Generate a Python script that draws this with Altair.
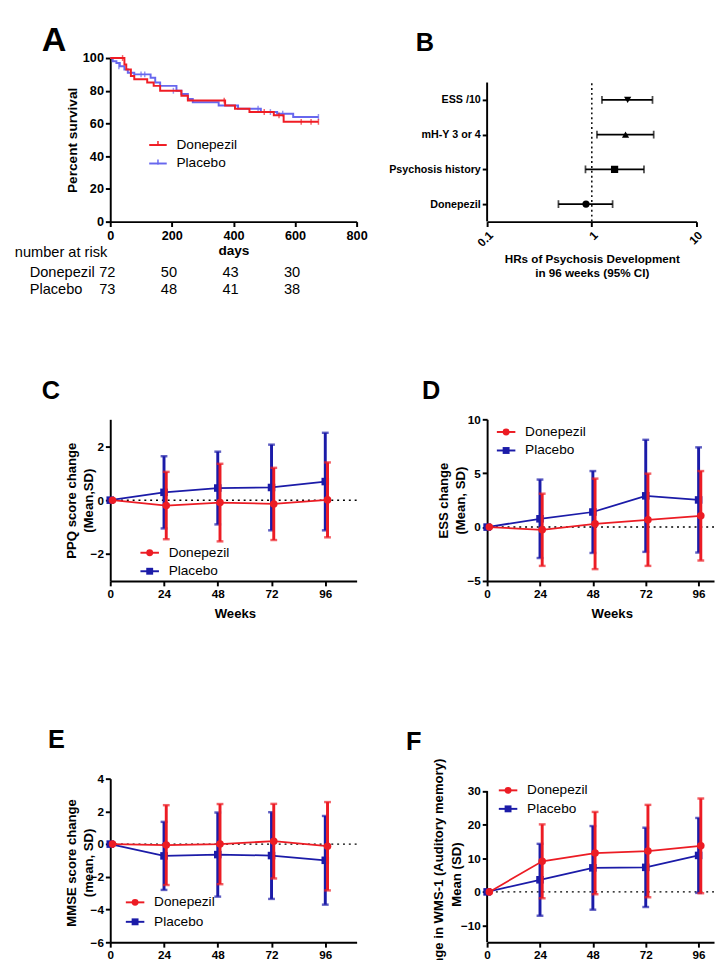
import altair as alt
import pandas as pd

FONT = "Liberation Sans"
RED = "#ec1c24"
NAVY = "#1b1ba8"
KM_RED = "#f01c24"
KM_BLUE = "#6767ee"

# ---------------- data ----------------
arms = ["Donepezil", "Placebo"]

# A: Kaplan-Meier (percent survival, step values from each day on)
don_km_day = [0, 46, 52, 67, 78, 120, 141, 162, 231, 252, 373, 405, 452, 531, 563, 676]
don_km_pct = [100, 96, 93, 89, 87, 85, 83, 80, 77, 74, 71, 69, 67, 65, 61, 61]
pla_km_day = [0, 8, 20, 31, 46, 57, 78, 131, 146, 162, 215, 231, 252, 268, 352, 415, 489, 542, 594, 676]
pla_km_pct = [100, 98, 97, 95, 93, 91, 90, 88, 85, 83, 80, 78, 75, 73, 71, 69, 67, 66, 64, 64]
don_cens_day = [40, 370, 500, 548, 620, 652, 676]
don_cens_pct = [100, 74, 67, 65, 61, 61, 61]
pla_cens_day = [28, 100, 112, 205, 480, 520, 560, 676]
pla_cens_pct = [95, 90, 90, 80, 69, 67, 66, 64]
risk_days = [0, 200, 400, 600]
risk_don = [72, 50, 43, 30]
risk_pla = [73, 48, 41, 38]

# B: hazard ratios
hr_labels = ["ESS /10", "mH-Y 3 or 4", "Psychosis history", "Donepezil"]
hr_est = [2.2, 2.1, 1.65, 0.88]
hr_lo = [1.25, 1.12, 0.87, 0.48]
hr_hi = [3.8, 3.9, 3.15, 1.58]
hr_shapes = ["triangle-down", "triangle-up", "square", "circle"]

# C-F: mean and SD by week
weeks = [0, 24, 48, 72, 96]
ppq_don_mean = [0, -0.20, -0.09, -0.14, 0.01]
ppq_don_sd = [0, 1.25, 1.44, 1.34, 1.39]
ppq_pla_mean = [0, 0.29, 0.45, 0.47, 0.69]
ppq_pla_sd = [0, 1.34, 1.35, 1.59, 1.81]
ess_don_mean = [0, -0.25, 0.30, 0.68, 1.05]
ess_don_sd = [0, 3.35, 4.20, 4.28, 4.15]
ess_pla_mean = [0, 0.77, 1.40, 2.90, 2.52]
ess_pla_sd = [0, 3.64, 3.80, 5.20, 4.88]
mmse_don_mean = [0, -0.06, 0.0, 0.18, -0.13]
mmse_don_sd = [0, 2.44, 2.45, 2.28, 2.70]
mmse_pla_mean = [0, -0.72, -0.64, -0.70, -0.99]
mmse_pla_sd = [0, 2.08, 2.57, 2.65, 2.71]
wms_don_mean = [0, 9.1, 11.55, 12.15, 13.7]
wms_don_sd = [0, 11.0, 12.25, 13.75, 14.1]
wms_pla_mean = [0, 3.6, 7.15, 7.3, 10.85]
wms_pla_sd = [0, 10.7, 12.45, 11.8, 11.15]


# ---------------- helpers ----------------
def text_layer(text, x, y, size=14, weight="normal", align="left"):
    return alt.Chart(pd.DataFrame({"t": [text]})).mark_text(
        align=align, baseline="alphabetic", font=FONT, fontSize=size,
        fontWeight=weight, color="black"
    ).encode(text="t:N", x=alt.value(x), y=alt.value(y))


def legend_layers(entries, x0, x1, tx, ys, km=False, size=14):
    out = []
    for (label, color, shape), y in zip(entries, ys):
        base = alt.Chart(pd.DataFrame({"t": [label]}))
        out.append(base.mark_rule(color=color, strokeWidth=2).encode(
            x=alt.value(x0), x2=alt.value(x1), y=alt.value(y)))
        if km:
            out.append(base.mark_rule(color=color, strokeWidth=1.5).encode(
                x=alt.value((x0 + x1) / 2), y=alt.value(y - 4), y2=alt.value(y + 1)))
        else:
            out.append(base.mark_point(shape=shape, filled=True, color=color,
                                       size=50, opacity=1).encode(
                x=alt.value((x0 + x1) / 2), y=alt.value(y)))
        out.append(base.mark_text(align="left", baseline="middle", font=FONT,
                                  fontSize=size, color="black").encode(
            x=alt.value(tx), y=alt.value(y), text="t:N"))
    return out


# ---------------- panel A ----------------
def panel_a():
    W, H = 253, 168
    sx = alt.Scale(domain=[0, 800], nice=False)
    sy = alt.Scale(domain=[0, 100], nice=False)
    xaxis = alt.Axis(values=[0, 200, 400, 600, 800], title="days", titleX=W / 2,
                     titleY=34, titleBaseline="alphabetic", titleAlign="center",
                     titleFontSize=14, labelFontSize=13)
    yaxis = alt.Axis(values=[0, 20, 40, 60, 80, 100], title="Percent survival",
                     titleX=-35, titleY=H / 2, titleAngle=270, titleAlign="center",
                     titleBaseline="alphabetic", titleFontSize=14, labelPadding=2,
                     labelFontSize=13)

    def X(f):
        return alt.X(f, type="quantitative", scale=sx, axis=xaxis)

    def Y(f):
        return alt.Y(f, type="quantitative", scale=sy, axis=yaxis)

    don = pd.DataFrame({"day": don_km_day, "pct": don_km_pct})
    pla = pd.DataFrame({"day": pla_km_day, "pct": pla_km_pct})
    donc = pd.DataFrame({"day": don_cens_day, "pct": don_cens_pct})
    plac = pd.DataFrame({"day": pla_cens_day, "pct": pla_cens_pct})
    layers = [
        alt.Chart(pla).mark_line(interpolate="step-after", color=KM_BLUE, strokeWidth=2)
        .encode(x=X("day"), y=Y("pct")),
        alt.Chart(plac).mark_tick(orient="vertical", color=KM_BLUE, size=6, thickness=1.5)
        .encode(x=X("day"), y=Y("pct")),
        alt.Chart(don).mark_line(interpolate="step-after", color=KM_RED, strokeWidth=2)
        .encode(x=X("day"), y=Y("pct")),
        alt.Chart(donc).mark_tick(orient="vertical", color=KM_RED, size=6, thickness=1.5)
        .encode(x=X("day"), y=Y("pct")),
    ]
    layers += legend_layers([(arms[0], KM_RED, None), (arms[1], KM_BLUE, None)],
                            40, 58, 68, [89.3, 108.3], km=True)
    risk = pd.DataFrame({"day": risk_days, "don": risk_don, "pla": risk_pla})
    for field, y in [("don", 225), ("pla", 242.5)]:
        layers.append(alt.Chart(risk).mark_text(font=FONT, fontSize=15, align="center",
                                                baseline="alphabetic", dx=-3, color="black")
                      .encode(x=X("day"), y=alt.value(y), text=f"{field}:Q"))
    layers.append(text_layer("number at risk", -98, 204.5, size=15))
    layers.append(text_layer(arms[0], -82.7, 225, size=15))
    layers.append(text_layer(arms[1], -82.7, 242.5, size=15))
    layers.append(text_layer("A", -70.3, -7.3, size=35, weight="bold"))
    return alt.layer(*layers).properties(width=W, height=H)


# ---------------- panel B ----------------
def panel_b():
    W, H = 215, 168
    n = len(hr_labels)
    pos = list(range(n, 0, -1))
    df = pd.DataFrame({"label": hr_labels, "hr": hr_est, "lo": hr_lo, "hi": hr_hi, "pos": pos})
    expr = " : ".join(f"datum.value == {int(p)} ? '{l}'" for p, l in zip(pos, hr_labels)) + " : ''"
    sx = alt.Scale(type="log", domain=[0.1, 10], nice=False)
    sy = alt.Scale(domain=[0.495, 5.205], nice=False, zero=False)
    xaxis = alt.Axis(values=[0.1, 1, 10], format="~g", labelAngle=315,
                     title=["HRs of Psychosis Development", "in 96 weeks (95% CI)"],
                     titleX=W / 2, titleY=42, titleBaseline="alphabetic", titleAlign="center",
                     titleFontSize=12, titleLineHeight=14)
    yaxis = alt.Axis(values=list(range(1, n + 1)), labelExpr=expr, title=None,
                     domain=False, labelFontSize=11, labelPadding=2)

    def X(f):
        return alt.X(f, type="quantitative", scale=sx, axis=xaxis)

    def Y(f):
        return alt.Y(f, type="quantitative", scale=sy, axis=yaxis)

    # axis line (at the scale minimum) and reference line at HR = 1
    guide = pd.DataFrame({"xv": [0.1, 1.0], "y0": [0.5, 0.5], "y1": [n + 0.5, n + 0.5],
                          "kind": ["axis", "ref"]})
    layers = [
        alt.Chart(guide).transform_filter("datum.kind == 'axis'").mark_rule(
            color="black", strokeWidth=2).encode(x=X("xv"), y=Y("y0"), y2="y1:Q"),
        alt.Chart(guide).transform_filter("datum.kind == 'ref'").mark_rule(
            color="black", strokeWidth=1.5, strokeDash=[2, 3]).encode(
            x=X("xv"), y=Y("y0"), y2="y1:Q"),
        alt.Chart(df).mark_rule(color="black", strokeWidth=1.8).encode(
            x=X("lo"), x2="hi:Q", y=Y("pos")),
        alt.Chart(df).mark_tick(orient="vertical", color="black", size=8, thickness=1.8)
        .encode(x=X("lo"), y=Y("pos")),
        alt.Chart(df).mark_tick(orient="vertical", color="black", size=8, thickness=1.8)
        .encode(x=X("hi"), y=Y("pos")),
        alt.Chart(df).mark_point(filled=True, color="black", size=55, opacity=1).encode(
            x=X("hr"), y=Y("pos"),
            shape=alt.Shape("label:N", scale=alt.Scale(domain=hr_labels, range=hr_shapes),
                            legend=None)),
        text_layer("B", -73.3, -7.3, size=26, weight="bold"),
    ]
    return alt.layer(*layers).properties(width=W, height=H)


# ---------------- panels C-F ----------------
def trend_panel(letter, letter_xy, dmean, dsd, pmean, psd, ydom, yvals, W, H, xmax,
                ytitle, ytx, yty, leg_x, leg_ys, own_domain_top=None, xtitle="Weeks"):
    sx = alt.Scale(domain=[0, xmax], nice=False)
    sy = alt.Scale(domain=ydom, nice=False, zero=False)
    if xtitle:
        xaxis = alt.Axis(values=weeks, title=xtitle, titleX=128, titleY=37,
                         titleBaseline="alphabetic", titleAlign="center", titleFontSize=13.5)
    else:
        xaxis = alt.Axis(values=weeks, title=None)
    yaxis = alt.Axis(values=yvals, title=ytitle, titleX=ytx, titleY=yty, titleAngle=270,
                     titleAlign="center", titleBaseline="alphabetic", titleFontSize=13.5,
                     titleLineHeight=18, labelPadding=2,
                     domain=own_domain_top is None)

    def X(f):
        return alt.X(f, type="quantitative", scale=sx, axis=xaxis)

    def Y(f):
        return alt.Y(f, type="quantitative", scale=sy, axis=yaxis)

    layers = [alt.Chart(pd.DataFrame({"z": [0]})).mark_rule(
        color="black", strokeWidth=1.5, strokeDash=[2, 4]).encode(y=Y("z"))]
    if own_domain_top is not None:
        dom = pd.DataFrame({"x0": [0], "y0": [ydom[0]], "y1": [own_domain_top]})
        layers.append(alt.Chart(dom).mark_rule(color="black", strokeWidth=2).encode(
            x=X("x0"), y=Y("y0"), y2="y1:Q"))

    def series(mean, sd, color, shape, shift):
        df = pd.DataFrame({"week": weeks, "mean": mean, "sd": sd})
        base = alt.Chart(df).transform_calculate(
            wx=f"datum.week + {shift}", lo="datum.mean - datum.sd", hi="datum.mean + datum.sd")
        bars = base.transform_filter("datum.sd > 0")
        return [
            bars.mark_rule(color=color, strokeWidth=3).encode(x=X("wx"), y=Y("lo"), y2="hi:Q"),
            bars.mark_tick(orient="horizontal", color=color, size=7, thickness=2.5).encode(
                x=X("wx"), y=Y("lo")),
            bars.mark_tick(orient="horizontal", color=color, size=7, thickness=2.5).encode(
                x=X("wx"), y=Y("hi")),
            base.mark_line(color=color, strokeWidth=1.8).encode(x=X("wx"), y=Y("mean")),
            base.mark_point(shape=shape, filled=True, color=color, size=60, opacity=1).encode(
                x=X("wx"), y=Y("mean")),
        ]

    layers += series(pmean, psd, NAVY, "square", 0)
    layers += series(dmean, dsd, RED, "circle", 1)
    layers += legend_layers([(arms[0], RED, "circle"), (arms[1], NAVY, "square")],
                            leg_x, leg_x + 19, leg_x + 29, leg_ys)
    layers.append(text_layer(letter, letter_xy[0], letter_xy[1], size=26, weight="bold"))
    return alt.layer(*layers).properties(width=W, height=H)


pA = panel_a()
pB = panel_b()
pC = trend_panel("C", (-70.3, -21), ppq_don_mean, ppq_don_sd, ppq_pla_mean, ppq_pla_sd,
                 [-3, 3], [-2, 0, 2], 253, 166, 110,
                 ["PPQ score change", "(Mean,SD)"], -35.7, 83, 31, [137, 156])
pD = trend_panel("D", (-67, -21), ess_don_mean, ess_don_sd, ess_pla_mean, ess_pla_sd,
                 [-5, 10], [-5, 0, 5, 10], 233, 166, 103,
                 ["ESS change", "(Mean, SD)"], -40.7, 83, 10, [13, 32])
pE = trend_panel("E", (-64, -31), mmse_don_mean, mmse_don_sd, mmse_pla_mean, mmse_pla_sd,
                 [-6, 4], [-6, -4, -2, 0, 2, 4], 253, 168, 110,
                 ["MMSE score change", "(mean, SD)"], -35.7, 86, 16, [127, 147],
                 xtitle=None)
pF = trend_panel("F", (-83.3, -29), wms_don_mean, wms_don_sd, wms_pla_mean, wms_pla_sd,
                 [-15, 33.7], [-10, 0, 10, 20, 30], 233, 168, 103,
                 ["Change in WMS-1 (Auditory memory)", "Mean  (SD)"], -45.7, 98, 12, [12, 31],
                 own_domain_top=30, xtitle=None)

chart = alt.concat(
    pA, pB, pC, pD, pE, pF, columns=2, spacing={"row": 203, "column": 134},
    bounds="flush"
).properties(
    padding={"left": 7, "top": 2, "right": 0, "bottom": 0}
).configure_view(stroke=None).configure_axis(
    domainColor="black", domainWidth=2, tickColor="black", tickWidth=2, tickSize=5,
    labelFont=FONT, labelFontSize=12, labelFontWeight="bold", labelColor="black",
    labelPadding=3, labelFlush=False, titleFont=FONT, titleFontWeight="bold",
    titleColor="black", grid=False
)

chart.save("out.html", embed_options={"renderer": "svg", "actions": False})
